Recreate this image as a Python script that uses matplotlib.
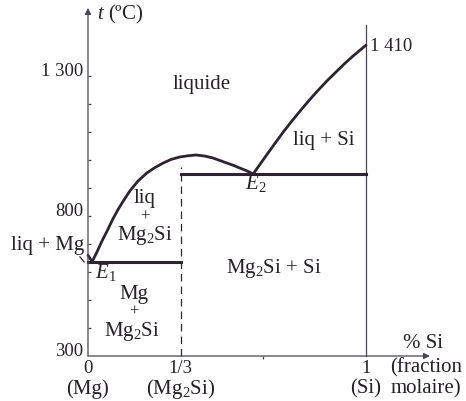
import matplotlib
matplotlib.use("Agg")
import matplotlib.pyplot as plt

plt.rcParams['font.family'] = ['Liberation Serif', 'DejaVu Serif']
plt.rcParams['mathtext.fontset'] = 'custom'
plt.rcParams['mathtext.rm'] = 'Liberation Serif'
plt.rcParams['mathtext.it'] = 'Liberation Serif:italic'

# Mg - Si phase diagram (x = mole fraction of Si, t in degC)
T_MG = 660
T_SI = 1410
E1 = (0.015, 637)
E2 = (0.594, 950)
X_MG2SI = 1 / 3

# liquidus Mg side: from pure Mg down to E1
liq_mg_x = [0.0, E1[0]]
liq_mg_t = [T_MG, E1[1]]

# liquidus around the congruent melting of Mg2Si, E1 -> E2
liq_mid_x = [0.015, 0.032, 0.050, 0.068, 0.090, 0.108, 0.126, 0.151, 0.180,
             0.212, 0.241, 0.270, 0.299, 0.331, 0.360, 0.388, 0.421, 0.450,
             0.475, 0.500, 0.525, 0.547, 0.572, 0.594]
liq_mid_t = [637, 671, 710, 745, 790, 823, 852, 890, 925,
             954, 973, 989, 1002, 1011, 1015, 1018, 1014, 1007,
             998, 989, 980, 971, 961, 950]

# liquidus Si side: E2 -> pure Si
liq_si_x = [0.594, 0.619, 0.644, 0.673, 0.701, 0.730, 0.763, 0.791, 0.824,
            0.860, 0.896, 0.924, 0.953, 0.978, 1.0]
liq_si_t = [950, 985, 1020, 1060, 1098, 1135, 1175, 1208, 1245,
            1283, 1318, 1345, 1371, 1392, T_SI]

y_ticks = [400, 500, 600, 700, 800, 900, 1000, 1100, 1200, 1300]
y_labels = {1300: '1 300', 800: '800', 300: '300'}

INK = '#2c2431'
AXIS = '#4a4650'
TXT = '#262228'
FS = 15      # words
FS_NUM = 13.5  # figures

fig = plt.figure(figsize=(4.66, 4.01), dpi=100)
ax = fig.add_axes([0, 0, 1, 1])
ax.set_xlim(-0.3165, 1.3597)
ax.set_ylim(139.3, 1571.4)
ax.axis('off')

# axes drawn by hand, with arrow heads
arrow = dict(arrowstyle='-|>', lw=0.9, color=AXIS, mutation_scale=9,
             shrinkA=0, shrinkB=0)
ax.annotate('', xy=(0, 1543), xytext=(0, 300), arrowprops=arrow)
ax.annotate('', xy=(1.23, 300), xytext=(0, 300), arrowprops=arrow)
ax.plot([1, 1], [300, 1482], color=AXIS, lw=0.9)
ax.hlines(y_ticks, 0, 0.012, color=AXIS, lw=0.9)
ax.vlines(0.63, 288, 300, color=AXIS, lw=0.9)
ax.vlines(X_MG2SI, 300, 975, color=INK, lw=0.9, linestyles=(0, (6, 4)))

# phase boundaries
line = dict(color=INK, lw=2.0, solid_joinstyle='round', solid_capstyle='round')
ax.plot(liq_mg_x, liq_mg_t, **line)
ax.plot(liq_mid_x, liq_mid_t, **line)
ax.plot(liq_si_x, liq_si_t, **line)
ax.plot([0, X_MG2SI], [E1[1], E1[1]], color=INK, lw=2.2)
ax.plot([X_MG2SI, 1], [E2[1], E2[1]], color=INK, lw=2.2)
ax.plot([-0.029, -0.014], [654, 636], color=INK, lw=0.9)

for t, lab in y_labels.items():
    ax.text(-0.018, t + 15, lab, ha='right', va='center', fontsize=FS_NUM,
            color=TXT)

kw = dict(fontsize=FS, color=TXT, va='center')
num = dict(fontsize=FS_NUM, color=TXT, va='center')
plus = dict(fontsize=12, color=TXT, va='center', ha='center')
ax.text(0.032, 1518, '$t$ (ºC)', ha='left', **kw)
ax.text(0.41, 1271, 'liquide', ha='center', **kw)
ax.text(1.014, 1404, '1 410', ha='left', **num)
ax.text(0.737, 1068, 'liq + Si', ha='left', **kw)
ax.text(0.565, 915, '$E_{\\mathrm{2}}$', ha='left', **kw)
ax.text(0.205, 864, 'liq', ha='center', **kw)
ax.text(0.205, 796, '+', **plus)
ax.text(0.205, 730, 'Mg$_\\mathrm{2}$Si', ha='center', **kw)
ax.text(-0.014, 696, 'liq + Mg', ha='right', **kw)
ax.text(0.025, 597, '$E_{\\mathrm{1}}$', ha='left', **kw)
ax.text(0.165, 519, 'Mg', ha='center', **kw)
ax.text(0.165, 460, '+', **plus)
ax.text(0.158, 389, 'Mg$_\\mathrm{2}$Si', ha='center', **kw)
ax.text(0.67, 614, 'Mg$_\\mathrm{2}$Si + Si', ha='center', **kw)

ax.text(0, 257, '0', ha='center', **num)
ax.text(X_MG2SI, 257, '1/3', ha='center', **num)
ax.text(1, 257, '1', ha='center', **num)
ax.text(0, 183, '(Mg)', ha='center', **kw)
ax.text(X_MG2SI, 183, '(Mg$_\\mathrm{2}$Si)', ha='center', **kw)
ax.text(1, 183, '(Si)', ha='center', **kw)
ax.text(1.133, 343, '% Si', ha='left', **kw)
ax.text(1.087, 257, '(fraction', ha='left', **kw)
ax.text(1.090, 183, 'molaire)', ha='left', **kw)

fig.savefig('out.png', dpi=100, facecolor='white')
